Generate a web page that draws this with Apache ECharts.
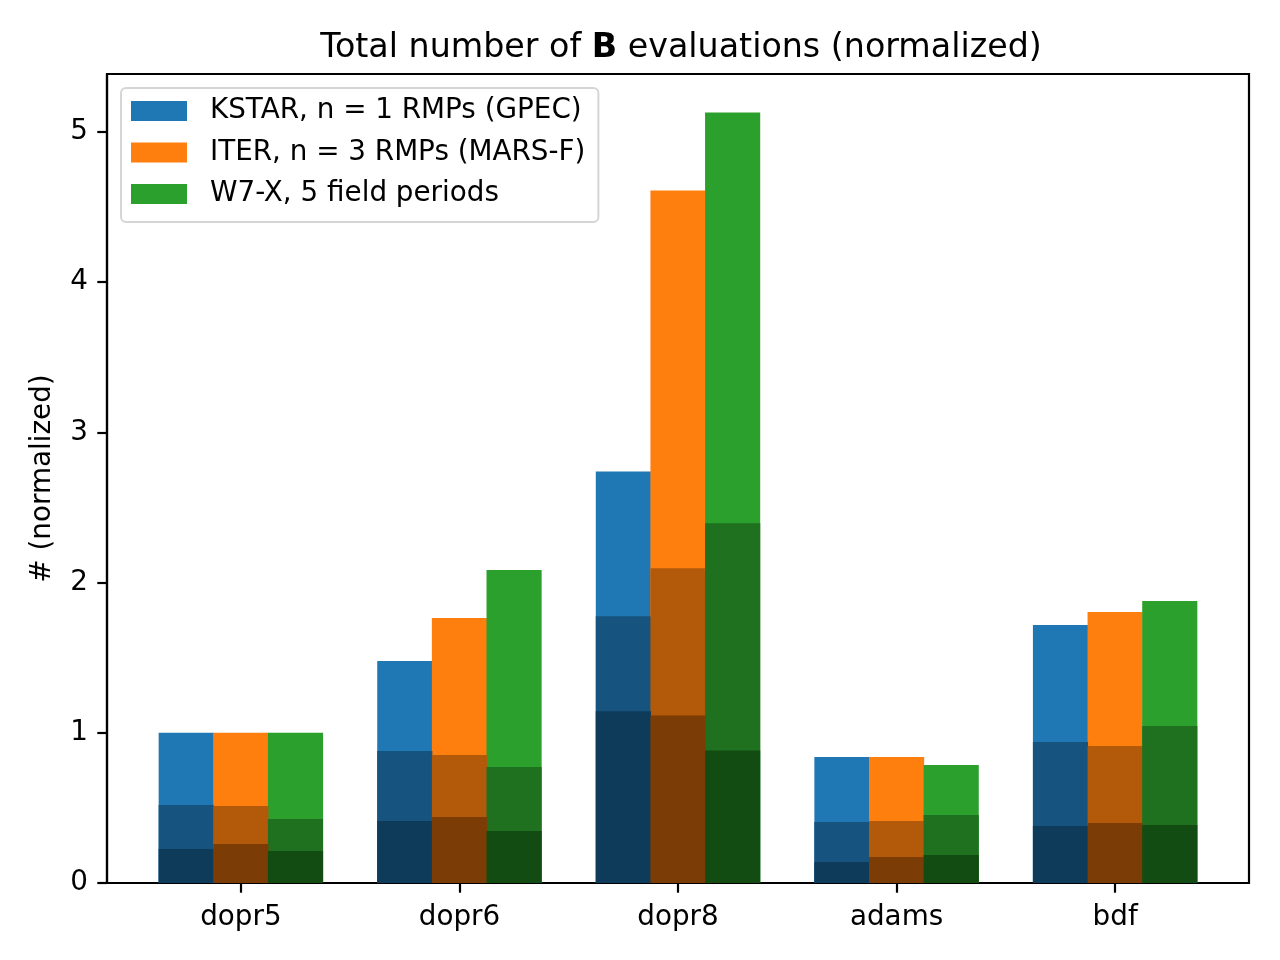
<!DOCTYPE html>
<html>
<head>
<meta charset="utf-8">
<script src="https://cdn.jsdelivr.net/npm/echarts@6/dist/echarts.min.js"></script>
<style>html,body{margin:0;padding:0;background:#fff}#c{width:1280px;height:960px}</style>
</head>
<body>
<div id="c"></div>
<script>
const categories = ['dopr5', 'dopr6', 'dopr8', 'adams', 'bdf'];
const seriesNames = ['KSTAR, n = 1 RMPs (GPEC)', 'ITER, n = 3 RMPs (MARS-F)', 'W7-X, 5 field periods'];
const kstarTotal = [1.00, 1.478, 2.74, 0.839, 1.718];
const kstarMid   = [0.52, 0.879, 1.776, 0.406, 0.939];
const kstarLow   = [0.226, 0.413, 1.143, 0.14, 0.38];
const iterTotal  = [1.00, 1.764, 4.61, 0.839, 1.804];
const iterMid    = [0.513, 0.852, 2.095, 0.413, 0.912];
const iterLow    = [0.26, 0.439, 1.116, 0.173, 0.40];
const w7xTotal   = [1.00, 2.084, 5.13, 0.786, 1.877];
const w7xMid     = [0.426, 0.772, 2.395, 0.453, 1.045];
const w7xLow     = [0.213, 0.346, 0.883, 0.186, 0.386];
const yTicks = [0, 1, 2, 3, 4, 5];

const groups = [
  { name: seriesNames[0], layers: [kstarTotal, kstarMid, kstarLow], colors: ['#1f77b4', '#16537e', '#0f3b5a'] },
  { name: seriesNames[1], layers: [iterTotal, iterMid, iterLow], colors: ['#ff7f0e', '#b2590a', '#7c3c06'] },
  { name: seriesNames[2], layers: [w7xTotal, w7xMid, w7xLow], colors: ['#2ca02c', '#1f701f', '#134c13'] }
];
const barW = 0.25;
const xMin = -0.6125, xMax = 4.6125;
const gridLeft = 107, gridRight = 1249;
const pxPerUnit = (gridRight - gridLeft) / (xMax - xMin);

const series = [];
// draw totals first, then mid layers, then low layers on top
for (let l = 0; l < 3; l++) {
  groups.forEach((g, gi) => {
    const off = (gi - 1) * barW;
    series.push({
      type: 'bar',
      name: l === 0 ? g.name : g.name + ' layer' + l,
      data: g.layers[l].map((v, i) => [i + off, v]),
      barWidth: barW * pxPerUnit + 0.5,
      barGap: '-100%',
      itemStyle: { color: g.colors[l] },
      emphasis: { disabled: true },
      silent: true,
      animation: false
    });
  });
}

const font = 'DejaVu Sans';
const chart = echarts.init(document.getElementById('c'));
chart.setOption({
  animation: false,
  backgroundColor: '#fff',
  title: {
    text: '{a|Total number of }{b|B}{a| evaluations (normalized)}',
    left: 676,
    textAlign: 'center',
    top: 27,
    textStyle: {
      fontWeight: 'normal',
      fontFamily: font,
      fontSize: 33.3,
      rich: {
        a: { fontFamily: font, fontSize: 33.3, fontWeight: 'normal', color: '#000' },
        b: { fontFamily: font, fontSize: 33.3, fontWeight: 'bold', color: '#000' }
      }
    }
  },
  legend: {
    data: seriesNames,
    orient: 'vertical',
    left: 121,
    top: 88,
    padding: [9, 13, 14, 10],
    itemWidth: 56,
    itemHeight: 20,
    itemGap: 13.5,
    icon: 'rect',
    backgroundColor: 'rgba(255,255,255,0.8)',
    borderColor: '#d5d5d5',
    borderWidth: 2,
    borderRadius: 5,
    selectedMode: false,
    textStyle: { fontFamily: font, fontSize: 27.8, color: '#000', lineHeight: 28, padding: [0, 0, 0, 18] }
  },
  grid: {
    left: gridLeft, top: 74, right: 1280 - gridRight, bottom: 960 - 883,
    show: true, borderColor: '#000', borderWidth: 2.2, backgroundColor: 'transparent'
  },
  xAxis: {
    type: 'value',
    min: xMin,
    max: xMax,
    splitLine: { show: false },
    axisLine: { onZero: false, lineStyle: { color: '#000', width: 2.2 } },
    axisTick: { show: true, length: 9.7, lineStyle: { color: '#000', width: 2.2 }, customValues: [0, 1, 2, 3, 4] },
    axisLabel: {
      customValues: [0, 1, 2, 3, 4],
      formatter: v => categories[Math.round(v)],
      fontFamily: font, fontSize: 27.8, color: '#000', margin: 21
    }
  },
  yAxis: {
    type: 'value',
    min: 0,
    max: 5.3865,
    name: '# (normalized)',
    nameLocation: 'middle',
    nameGap: 50,
    nameTextStyle: { fontFamily: font, fontSize: 27.8, color: '#000' },
    splitLine: { show: false },
    axisLine: { show: true, onZero: false, lineStyle: { color: '#000', width: 2.2 } },
    axisTick: { show: true, length: 9.7, lineStyle: { color: '#000', width: 2.2 }, customValues: yTicks },
    axisLabel: { customValues: yTicks, fontFamily: font, fontSize: 27.8, color: '#000', margin: 19 }
  },
  series: series
});
</script>
</body>
</html>
